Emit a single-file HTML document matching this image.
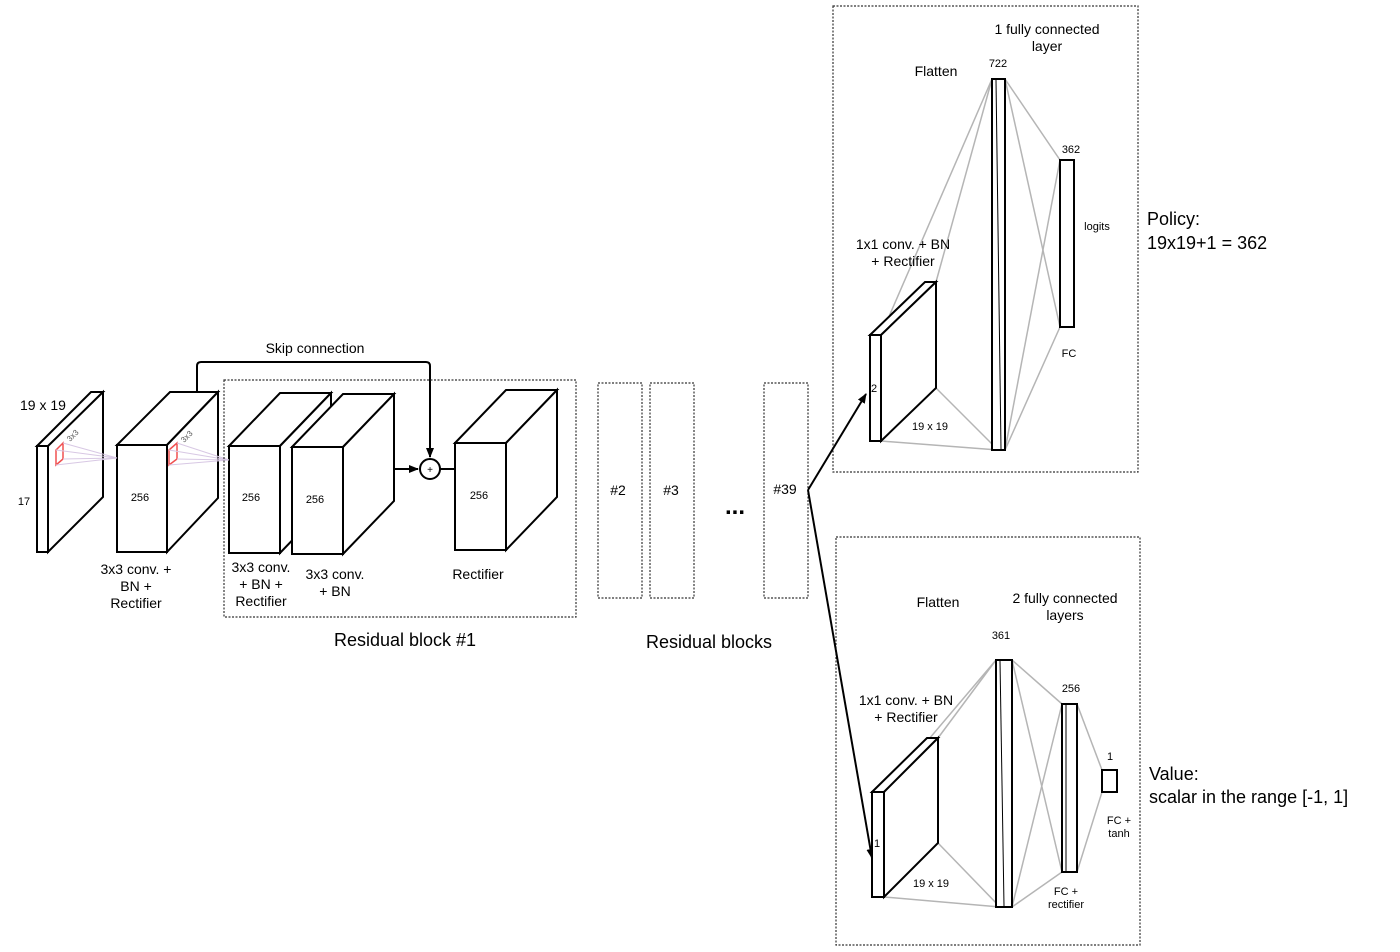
<!DOCTYPE html>
<html><head><style>
body{margin:0;background:#fff;}
svg{display:block;font-family:"Liberation Sans",Arial,sans-serif;}
</style></head><body>
<svg width="1400" height="952" viewBox="0 0 1400 952" xmlns="http://www.w3.org/2000/svg">
<defs>
<marker id="ar" markerWidth="10" markerHeight="10" refX="9" refY="5" orient="auto" markerUnits="userSpaceOnUse"><path d="M0,1 L10,5 L0,9 Z" fill="#000"/></marker>
</defs>
<g fill="#fff" stroke="#000" stroke-width="2" stroke-linejoin="miter">
<!-- input slab -->
<polygon points="37,446 91,392 103,392 49,446"/>
<polygon points="48,446 103,392 103,497 48,552"/>
<rect x="37" y="446" width="11" height="106"/>
<!-- block2 -->
<polygon points="117,445 170,392 218,392 167,445"/>
<polygon points="167,445 218,392 218,498 167,552"/>
<rect x="117" y="445" width="50" height="107"/>
<!-- block3 -->
<polygon points="229,446 280,393 331,393 280,446"/>
<polygon points="280,446 331,393 331,500 280,553"/>
<rect x="229" y="446" width="51" height="107"/>
<!-- block4 -->
<polygon points="292,447 343,394 394,394 343,447"/>
<polygon points="343,447 394,394 394,501 343,554"/>
<rect x="292" y="447" width="51" height="107"/>
<!-- block5 -->
<polygon points="455,443 506,390 557,390 506,443"/>
<polygon points="506,443 557,390 557,497 506,550"/>
<rect x="455" y="443" width="51" height="107"/>
</g>
<!-- red kernels -->
<polygon points="56,450 63,443 63,459 56,465" fill="none" stroke="#f05050" stroke-width="1.5"/>
<polygon points="169,450 177,443 177,459 169,465" fill="none" stroke="#f05050" stroke-width="1.5"/>
<g stroke="#d8c8e4" stroke-width="1">
<line x1="63" y1="443" x2="117" y2="458"/><line x1="63" y1="459" x2="117" y2="458"/><line x1="56" y1="465" x2="117" y2="458"/><line x1="56" y1="450" x2="117" y2="458"/>
<line x1="177" y1="443" x2="229" y2="460"/><line x1="177" y1="459" x2="229" y2="460"/><line x1="169" y1="465" x2="229" y2="460"/><line x1="169" y1="450" x2="229" y2="460"/>
</g>
<g font-size="8" fill="#555"><text x="70" y="442" transform="rotate(-45 70 442)">3x3</text><text x="184" y="443" transform="rotate(-45 184 443)">3x3</text></g>
<!-- skip -->
<path d="M197,392 V366 Q197,362 201,362 H426 Q430,362 430,366 V457" fill="none" stroke="#000" stroke-width="2" marker-end="url(#ar)"/>
<line x1="394" y1="469" x2="418" y2="469" stroke="#000" stroke-width="2" marker-end="url(#ar)"/>
<circle cx="430" cy="469" r="10" fill="#fff" stroke="#000" stroke-width="2"/>
<text x="430" y="473" font-size="10" text-anchor="middle">+</text>
<line x1="440" y1="469" x2="455" y2="469" stroke="#000" stroke-width="2"/>
<!-- dotted boxes -->
<g fill="none" stroke="#333" stroke-width="1.2" stroke-dasharray="2,1.5">
<rect x="224" y="380" width="352" height="237"/>
<rect x="598" y="383" width="44" height="215"/>
<rect x="650" y="383" width="44" height="215"/>
<rect x="764" y="383" width="44" height="215"/>
<rect x="833" y="6" width="305" height="466"/>
<rect x="836" y="537" width="304" height="408"/>
</g>
<!-- labels left -->
<g font-size="14" fill="#000">
<text x="20" y="410">19 x 19</text>
<text x="315" y="353" text-anchor="middle">Skip connection</text>
</g>
<g font-size="11" fill="#000" text-anchor="middle">
<text x="24" y="505">17</text>
<text x="140" y="501">256</text><text x="251" y="501">256</text><text x="315" y="503">256</text><text x="479" y="499">256</text>
</g>
<g font-size="14" fill="#000" text-anchor="middle">
<text x="136" y="574">3x3 conv. +</text><text x="136" y="591">BN +</text><text x="136" y="608">Rectifier</text>
<text x="261" y="572">3x3 conv.</text><text x="261" y="589">+ BN +</text><text x="261" y="606">Rectifier</text>
<text x="335" y="579">3x3 conv.</text><text x="335" y="596">+ BN</text>
<text x="478" y="579">Rectifier</text>
<text x="618" y="495">#2</text><text x="671" y="495">#3</text><text x="785" y="494">#39</text>
</g>
<text x="735" y="514" font-size="24" text-anchor="middle" font-weight="bold">...</text>
<g font-size="18" text-anchor="middle"><text x="405" y="646">Residual block #1</text><text x="709" y="648">Residual blocks</text></g>
<!-- arrows from #39 -->
<line x1="808" y1="490" x2="866" y2="394" stroke="#000" stroke-width="2" marker-end="url(#ar)"/>
<line x1="808" y1="490" x2="872" y2="858" stroke="#000" stroke-width="2" marker-end="url(#ar)"/>
<!-- policy head -->
<g stroke="#b5b5b5" stroke-width="1.5">
<line x1="881" y1="335" x2="992" y2="79"/><line x1="936" y1="282" x2="992" y2="79"/>
<line x1="936" y1="388" x2="998" y2="450"/><line x1="881" y1="441" x2="998" y2="450"/>
<line x1="1005" y1="79" x2="1060" y2="160"/><line x1="1005" y1="79" x2="1060" y2="327"/>
<line x1="1005" y1="450" x2="1060" y2="160"/><line x1="1005" y1="450" x2="1060" y2="327"/>
</g>
<g fill="#fff" stroke="#000" stroke-width="2">
<polygon points="870,335 925,282 936,282 881,335"/>
<polygon points="881,335 936,282 936,388 881,441"/>
<rect x="870" y="335" width="11" height="106"/>
<rect x="992" y="79" width="13" height="371"/>
<rect x="1060" y="160" width="14" height="167"/>
</g>
<line x1="996" y1="80" x2="1001" y2="449" stroke="#000" stroke-width="1"/>
<g font-size="14" text-anchor="middle">
<text x="1047" y="34">1 fully connected</text><text x="1047" y="51">layer</text>
<text x="936" y="76">Flatten</text>
<text x="903" y="249">1x1 conv. + BN</text><text x="903" y="266">+ Rectifier</text>
</g>
<g font-size="11" text-anchor="middle">
<text x="998" y="67">722</text><text x="1071" y="153">362</text><text x="1097" y="230">logits</text><text x="1069" y="357">FC</text>
<text x="874" y="392">2</text><text x="930" y="430">19 x 19</text>
</g>
<g font-size="18"><text x="1147" y="225">Policy:</text><text x="1147" y="249">19x19+1 = 362</text>
<text x="1149" y="780">Value:</text><text x="1149" y="803">scalar in the range [-1, 1]</text></g>
<!-- value head -->
<g stroke="#b5b5b5" stroke-width="1.5">
<line x1="884" y1="792" x2="996" y2="660"/><line x1="938" y1="738" x2="996" y2="660"/>
<line x1="938" y1="843" x2="1000" y2="907"/><line x1="884" y1="897" x2="1000" y2="907"/>
<line x1="1012" y1="660" x2="1062" y2="704"/><line x1="1012" y1="660" x2="1062" y2="872"/>
<line x1="1012" y1="907" x2="1062" y2="704"/><line x1="1012" y1="907" x2="1062" y2="872"/>
<line x1="1077" y1="704" x2="1102" y2="770"/><line x1="1077" y1="872" x2="1102" y2="792"/>
</g>
<g fill="#fff" stroke="#000" stroke-width="2">
<polygon points="872,792 927,738 938,738 884,792"/>
<polygon points="884,792 938,738 938,843 884,897"/>
<rect x="872" y="792" width="12" height="105"/>
<rect x="996" y="660" width="16" height="247"/>
<rect x="1062" y="704" width="15" height="168"/>
<rect x="1102" y="770" width="15" height="22"/>
</g>
<line x1="1000" y1="661" x2="1004" y2="906" stroke="#000" stroke-width="1"/>
<line x1="1066" y1="705" x2="1066" y2="871" stroke="#000" stroke-width="1"/>
<g font-size="14" text-anchor="middle">
<text x="938" y="607">Flatten</text>
<text x="1065" y="603">2 fully connected</text><text x="1065" y="620">layers</text>
<text x="906" y="705">1x1 conv. + BN</text><text x="906" y="722">+ Rectifier</text>
</g>
<g font-size="11" text-anchor="middle">
<text x="1001" y="639">361</text><text x="1071" y="692">256</text><text x="1110" y="760">1</text>
<text x="1119" y="824">FC +</text><text x="1119" y="837">tanh</text>
<text x="1066" y="895">FC +</text><text x="1066" y="908">rectifier</text>
<text x="877" y="847">1</text><text x="931" y="887">19 x 19</text>
</g>
</svg>
</body></html>
